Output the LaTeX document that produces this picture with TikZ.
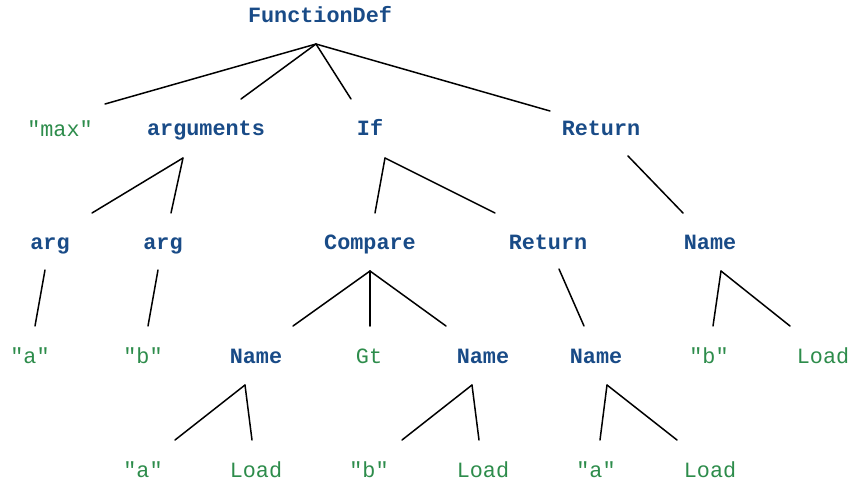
\documentclass[tikz,border=0pt]{standalone}
\usepackage{fontspec}
\setmonofont{Liberation Mono}
\usepackage{tikz}
\definecolor{ntblue}{RGB}{25,75,135}
\definecolor{leafgreen}{RGB}{45,140,75}
\tikzset{
  nt/.style={anchor=base,inner sep=0pt,text=ntblue,
    font=\ttfamily\bfseries\fontsize{10.9}{13}\selectfont},
  lf/.style={anchor=base,inner sep=0pt,text=leafgreen,
    font=\ttfamily\fontsize{10.9}{13}\selectfont},
  edge/.style={line width=0.75pt,line cap=round}
}

\begin{document}
\begin{tikzpicture}[x=0.5pt,y=-0.5pt]
  \useasboundingbox (0,0) rectangle (852,483);
  % level 0
  \node[nt] (fd) at (320,22) {FunctionDef};
  % level 1
  \node[lf] (maxs) at (60,136) {"max"};
  \node[nt] (args) at (206,135) {arguments};
  \node[nt] (iff) at (370,135) {If};
  \node[nt] (ret1) at (601,135) {Return};
  % level 2
  \node[nt] (arg1) at (50,249) {arg};
  \node[nt] (arg2) at (163,249) {arg};
  \node[nt] (cmp) at (370,249) {Compare};
  \node[nt] (ret2) at (548,249) {Return};
  \node[nt] (nm1) at (710,249) {Name};
  % level 3
  \node[lf] (a1) at (30,363) {"a"};
  \node[lf] (b1) at (143,363) {"b"};
  \node[nt] (nm2) at (256,363) {Name};
  \node[lf] (gt) at (369,363) {Gt};
  \node[nt] (nm3) at (483,363) {Name};
  \node[nt] (nm4) at (596,363) {Name};
  \node[lf] (b2) at (709,363) {"b"};
  \node[lf] (load1) at (823,363) {Load};
  % level 4
  \node[lf] (a2) at (143,477) {"a"};
  \node[lf] (load2) at (256,477) {Load};
  \node[lf] (b3) at (369,477) {"b"};
  \node[lf] (load3) at (483,477) {Load};
  \node[lf] (a3) at (596,477) {"a"};
  \node[lf] (load4) at (710,477) {Load};

  % where the branches start and end
  \coordinate (fd-j) at (316,44);
  \coordinate (maxs-t) at (105,104);
  \coordinate (args-t) at (241,99);
  \coordinate (iff-t) at (351,99);
  \coordinate (ret1-t) at (550,111);
  \coordinate (args-j) at (183,158);
  \coordinate (arg1-t) at (92,213);
  \coordinate (arg2-t) at (171,213);
  \coordinate (iff-j) at (385,158);
  \coordinate (cmp-t) at (375,213);
  \coordinate (ret2-t) at (495,213);
  \coordinate (ret1-j) at (628,156);
  \coordinate (nm1-t) at (683,213);
  \coordinate (arg1-j) at (45,270);
  \coordinate (a1-t) at (35,326);
  \coordinate (arg2-j) at (158,270);
  \coordinate (b1-t) at (148,326);
  \coordinate (cmp-j) at (370,271);
  \coordinate (nm2-t) at (293,326);
  \coordinate (gt-t) at (370,326);
  \coordinate (nm3-t) at (446,326);
  \coordinate (ret2-j) at (559,269);
  \coordinate (nm4-t) at (584,326);
  \coordinate (nm1-j) at (721,271);
  \coordinate (b2-t) at (713,326);
  \coordinate (load1-t) at (790,326);
  \coordinate (nm2-j) at (245,385);
  \coordinate (a2-t) at (175,440);
  \coordinate (load2-t) at (252,440);
  \coordinate (nm3-j) at (472,385);
  \coordinate (b3-t) at (402,440);
  \coordinate (load3-t) at (479,440);
  \coordinate (nm4-j) at (607,385);
  \coordinate (a3-t) at (600,440);
  \coordinate (load4-t) at (677,440);

  \foreach \p/\c in {fd/maxs,fd/args,fd/iff,fd/ret1,args/arg1,args/arg2,
      iff/cmp,iff/ret2,ret1/nm1,arg1/a1,arg2/b1,cmp/nm2,cmp/gt,cmp/nm3,
      ret2/nm4,nm1/b2,nm1/load1,nm2/a2,nm2/load2,nm3/b3,nm3/load3,
      nm4/a3,nm4/load4}
    \draw[edge] (\p-j) -- (\c-t);
\end{tikzpicture}
\end{document}
